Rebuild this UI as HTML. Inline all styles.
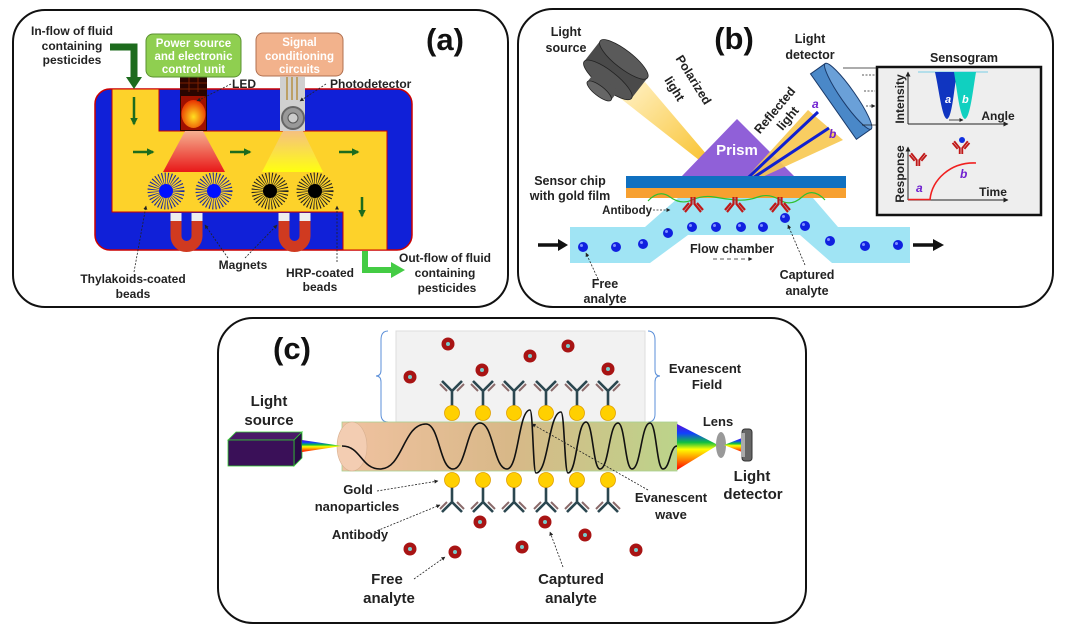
<!DOCTYPE html>
<html><head><meta charset="utf-8"><style>
html,body{margin:0;padding:0;background:#fff;}
svg{display:block;}
text{font-family:"Liberation Sans",Arial,sans-serif;font-weight:bold;fill:#222;}
</style></head><body>
<svg width="1067" height="631" viewBox="0 0 1067 631" xmlns="http://www.w3.org/2000/svg">
<defs>
<linearGradient id="redTri" x1="0" y1="0" x2="0" y2="1"><stop offset="0" stop-color="#f6b090"/><stop offset="1" stop-color="#e81818"/></linearGradient>
<linearGradient id="yelTri" x1="0" y1="0" x2="0" y2="1"><stop offset="0" stop-color="#f5c080"/><stop offset="1" stop-color="#ffff10"/></linearGradient>
<radialGradient id="led" cx="0.5" cy="0.6" r="0.6"><stop offset="0" stop-color="#ffe020"/><stop offset="1" stop-color="#e83000"/></radialGradient>
<linearGradient id="beam" x1="0" y1="0" x2="1" y2="1"><stop offset="0" stop-color="#fff2c8"/><stop offset="1" stop-color="#f7b400"/></linearGradient>
<linearGradient id="fiber" x1="0" y1="0" x2="1" y2="0"><stop offset="0" stop-color="#f0c2a0"/><stop offset="0.5" stop-color="#d8b888"/><stop offset="1" stop-color="#bcd48a"/></linearGradient>
<linearGradient id="rainbow" x1="0" y1="0" x2="0" y2="1"><stop offset="0" stop-color="#5a10d0"/><stop offset="0.2" stop-color="#1040ff"/><stop offset="0.4" stop-color="#10c040"/><stop offset="0.55" stop-color="#ffff00"/><stop offset="0.75" stop-color="#ff9000"/><stop offset="1" stop-color="#ff0000"/></linearGradient>
<marker id="ah" viewBox="0 0 10 10" refX="9" refY="5" markerWidth="5" markerHeight="5" orient="auto"><path d="M0,0 L10,5 L0,10 z" fill="#222"/></marker>
<marker id="gah" viewBox="0 0 10 10" refX="8" refY="5" markerWidth="3" markerHeight="3" orient="auto"><path d="M0,0 L10,5 L0,10 z" fill="#1d6b1d"/></marker>
<g id="abR" stroke="#c01818" stroke-width="2.2" fill="none"><path d="M-1.5,0 V7 L-8,15 M1.5,0 V7 L8,15 M-4,6 L-10,13 M4,6 L10,13"/></g>
<g id="abC" fill="none"><path d="M0,0 V-22 L-10,-32 M0,-22 L10,-32" stroke="#2b4750" stroke-width="2.6"/><path d="M-5,-22 L-12,-29 M5,-22 L12,-29" stroke="#8a6a6a" stroke-width="2"/></g>
<g id="an"><circle r="6.5" fill="#a81414"/><circle r="2" fill="#7cc"/></g>
<g id="bd"><circle r="5" fill="#1020e0"/><circle cx="-1.5" cy="-1.5" r="1.5" fill="#8090ff"/></g>
</defs>

<!-- ========== PANEL A ========== -->
<rect x="13" y="10" width="495" height="297" rx="32" fill="#fff" stroke="#111" stroke-width="2"/>
<rect x="95" y="89" width="317" height="161" rx="15" fill="#1020d8" stroke="#c00" stroke-width="1.5"/>
<path d="M112,89 H159 V131 H387 V250 H343 V212 H112 Z" fill="#fdd22a" stroke="#c00" stroke-width="1"/>
<rect x="180" y="77" width="27" height="54" fill="#2a0500"/>
<path d="M180,83 H207 M180,89 H207 M189,77 V92 M198,77 V92" stroke="#7a2000" stroke-width="1"/>
<rect x="181" y="96" width="25" height="34" fill="#a01000"/>
<ellipse cx="193.5" cy="114" rx="12" ry="14" fill="url(#led)"/>
<rect x="280" y="77" width="25" height="54" fill="#d0d0d0"/>
<path d="M287,77 V100 M292,77 V100 M297,77 V100" stroke="#b08020" stroke-width="1.2"/>
<circle cx="293" cy="118" r="11" fill="#999" stroke="#666" stroke-width="2"/>
<circle cx="293" cy="118" r="5" fill="#ccc" stroke="#555"/>
<polygon points="185,131 203,131 225,172 163,172" fill="url(#redTri)"/>
<polygon points="283,131 303,131 323,172 262,172" fill="url(#yelTri)"/>
<g stroke-dasharray="0.8 1.6">
<circle cx="166" cy="191" r="12" fill="none" stroke="#1a2aa0" stroke-width="13"/>
<circle cx="214" cy="191" r="12" fill="none" stroke="#1a2aa0" stroke-width="13"/>
<circle cx="270" cy="191" r="12" fill="none" stroke="#222" stroke-width="13"/>
<circle cx="315" cy="191" r="12" fill="none" stroke="#222" stroke-width="13"/>
</g>
<circle cx="166" cy="191" r="7" fill="#0010ff"/><circle cx="214" cy="191" r="7" fill="#0010ff"/>
<circle cx="270" cy="191" r="7" fill="#000"/><circle cx="315" cy="191" r="7" fill="#000"/>
<path d="M176,216 V236 A10.5,10.5 0 0 0 197,236 V216" fill="none" stroke="#d03a20" stroke-width="11"/>
<path d="M284,216 V236 A10.5,10.5 0 0 0 305,236 V216" fill="none" stroke="#d03a20" stroke-width="11"/>
<rect x="170.5" y="213" width="11" height="8" fill="#eee"/><rect x="191.5" y="213" width="11" height="8" fill="#eee"/>
<rect x="278.5" y="213" width="11" height="8" fill="#eee"/><rect x="299.5" y="213" width="11" height="8" fill="#eee"/>
<g stroke="#1d6b1d" stroke-width="2.5" marker-end="url(#gah)">
<path d="M134,97 V124"/><path d="M133,152 H153"/><path d="M230,152 H250"/><path d="M339,152 H358"/><path d="M362,197 V216"/>
</g>
<path d="M110,47 H134 V78" fill="none" stroke="#1d6b1d" stroke-width="7"/>
<polygon points="126,77 142,77 134,89" fill="#1d6b1d"/>
<path d="M365,251 V270 H392" fill="none" stroke="#44cc44" stroke-width="6"/>
<polygon points="391,262 391,278 405,270" fill="#44cc44"/>
<rect x="146" y="34" width="95" height="43" rx="7" fill="#8fcf50" stroke="#5a9030"/>
<text x="193.5" y="47" font-size="11.5" text-anchor="middle" style="fill:#fff">Power source</text>
<text x="193.5" y="60" font-size="11.5" text-anchor="middle" style="fill:#fff">and electronic</text>
<text x="193.5" y="73" font-size="11.5" text-anchor="middle" style="fill:#fff">control unit</text>
<rect x="256" y="33" width="87" height="43" rx="7" fill="#f2b28c" stroke="#b07050"/>
<text x="299.5" y="46" font-size="11.5" text-anchor="middle" style="fill:#fff">Signal</text>
<text x="299.5" y="60" font-size="11.5" text-anchor="middle" style="fill:#fff">conditioning</text>
<text x="299.5" y="73" font-size="11.5" text-anchor="middle" style="fill:#fff">circuits</text>
<text x="445" y="50" font-size="31" text-anchor="middle" style="fill:#111">(a)</text>
<text x="72" y="35" font-size="12" text-anchor="middle">In-flow of fluid</text>
<text x="72" y="50" font-size="12" text-anchor="middle">containing</text>
<text x="72" y="64" font-size="12" text-anchor="middle">pesticides</text>
<text x="232" y="88" font-size="12">LED</text>
<text x="330" y="88" font-size="12">Photodetector</text>
<text x="243" y="269" font-size="12" text-anchor="middle">Magnets</text>
<text x="133" y="283" font-size="12" text-anchor="middle">Thylakoids-coated</text>
<text x="133" y="298" font-size="12" text-anchor="middle">beads</text>
<text x="320" y="277" font-size="12" text-anchor="middle">HRP-coated</text>
<text x="320" y="291" font-size="12" text-anchor="middle">beads</text>
<text x="445" y="262" font-size="12" text-anchor="middle">Out-flow of fluid</text>
<text x="445" y="277" font-size="12" text-anchor="middle">containing</text>
<text x="447" y="292" font-size="12" text-anchor="middle">pesticides</text>
<g stroke="#222" stroke-width="0.8" stroke-dasharray="2 1.5" fill="none" marker-end="url(#ah)">
<path d="M231,84 L197,101"/><path d="M326,84 L300,101"/>
<path d="M134,272 L146,206"/><path d="M228,258 L205,225"/><path d="M245,258 L277,225"/><path d="M337,262 L337,206"/>
</g>

<!-- ========== PANEL B ========== -->
<rect x="518" y="9" width="535" height="298" rx="35" fill="#fff" stroke="#111" stroke-width="2"/>
<polygon points="620,98 645,82 736,189" fill="url(#beam)"/>
<g transform="translate(614,72) rotate(38)">
<rect x="-30" y="-16" width="60" height="26" fill="#4a4a4a"/>
<ellipse cx="0" cy="-16" rx="30" ry="9" fill="#5a5a5a" stroke="#222" stroke-width="0.8"/>
<ellipse cx="0" cy="10" rx="30" ry="9" fill="#555" stroke="#222" stroke-width="0.8"/>
<rect x="-15" y="12" width="30" height="12" fill="#555"/>
<ellipse cx="0" cy="24" rx="15" ry="5" fill="#666" stroke="#222" stroke-width="0.8"/>
</g>
<polygon points="737,119 681,177 795,177" fill="#9060d8"/>
<text x="737" y="155" font-size="15" text-anchor="middle" style="fill:#fff">Prism</text>
<polygon points="736,189 808,110 843,140" fill="#f7c850" opacity="0.9"/>
<path d="M736,189 L818,112 M736,189 L829,128" stroke="#1020d0" stroke-width="3"/>
<rect x="626" y="176" width="220" height="12" fill="#1070c0"/>
<rect x="626" y="188" width="220" height="10" fill="#f7a030"/>
<polygon points="570,227 645,227 678,198 813,198 838,227 910,227 910,263 832,263 800,235 688,235 650,263 570,263" fill="#a0e4f4"/>
<path d="M648,201 Q659,189 670,197 T692,200 T714,197 T736,200 T758,197 T780,200 T802,197 T825,200" fill="none" stroke="#30c030" stroke-width="1.2"/>
<g transform="translate(693,197)"><use href="#abR"/></g>
<g transform="translate(735,197)"><use href="#abR"/></g>
<g transform="translate(780,197)"><use href="#abR"/></g>
<g>
<use href="#bd" x="583" y="247"/><use href="#bd" x="616" y="247"/><use href="#bd" x="643" y="244"/><use href="#bd" x="668" y="233"/>
<use href="#bd" x="692" y="227"/><use href="#bd" x="716" y="227"/><use href="#bd" x="741" y="227"/><use href="#bd" x="763" y="227"/>
<use href="#bd" x="785" y="218"/><use href="#bd" x="805" y="226"/><use href="#bd" x="830" y="241"/><use href="#bd" x="865" y="246"/><use href="#bd" x="898" y="245"/>
</g>
<path d="M538,245 H560" stroke="#111" stroke-width="3.5"/><polygon points="558,239 568,245 558,251" fill="#111"/>
<path d="M913,245 H935" stroke="#111" stroke-width="3.5"/><polygon points="933,239 944,245 933,251" fill="#111"/>
<g transform="translate(840,102) rotate(55)">
<rect x="-40" y="-10" width="80" height="18" fill="#4a88c8" stroke="#1a3a6a" stroke-width="1"/>
<ellipse cx="0" cy="-10" rx="40" ry="7" fill="#6aa0d8" stroke="#1a3a6a" stroke-width="1"/>
</g>
<g stroke="#222" stroke-width="0.8" fill="none">
<path d="M843,68 H877 M862,125 H877"/>
<path d="M862,75 H875 M864,91 H875 M866,106 H875" stroke-dasharray="2 1.5" marker-end="url(#ah)"/>
<path d="M653,210 H670" stroke-dasharray="2 1.5" marker-end="url(#ah)"/>
<path d="M713,259 H752" stroke-dasharray="4 3" marker-end="url(#ah)"/>
<path d="M598,279 L586,253" stroke-dasharray="2 1.5" marker-end="url(#ah)"/>
<path d="M805,265 L788,225" stroke-dasharray="2 1.5" marker-end="url(#ah)"/>
</g>
<text x="812" y="108" font-size="12" font-style="italic" style="fill:#7020d0">a</text>
<text x="829" y="138" font-size="12" font-style="italic" style="fill:#7020d0">b</text>
<rect x="877" y="67" width="164" height="148" fill="#eeeeee" stroke="#111" stroke-width="2.5"/>
<g stroke="#222" stroke-width="1" fill="none" marker-end="url(#ah)">
<path d="M908,124 V72"/><path d="M908,124 H1008"/><path d="M908,200 V147"/><path d="M908,200 H1008"/>
</g>
<path d="M918,72 H988" stroke="#a0d8e8" stroke-width="1.5"/>
<path d="M935,72 H957 C954,90 952,118 947,119 C942,118 939,90 935,72Z" fill="#1035c0"/>
<path d="M954,72 H976 C973,90 970,118 965,119 C960,118 957,90 954,72Z" fill="#10d0c0"/>
<text x="945" y="103" font-size="11" font-style="italic" style="fill:#fff">a</text>
<text x="962" y="103" font-size="11" font-style="italic" style="fill:#fff">b</text>
<path d="M949,120 H963" stroke="#222" stroke-width="0.8" marker-end="url(#ah)"/>
<path d="M908,199.5 H930 C932,180 950,162 976,163" fill="none" stroke="#f02020" stroke-width="1.6"/>
<g transform="translate(918,166) scale(0.85,-0.85)"><use href="#abR"/></g>
<g transform="translate(961,154) scale(0.85,-0.85)"><use href="#abR"/></g>
<circle cx="962" cy="140" r="3" fill="#1030e0"/>
<text x="916" y="192" font-size="12" font-style="italic" style="fill:#7020d0">a</text>
<text x="960" y="178" font-size="12" font-style="italic" style="fill:#7020d0">b</text>
<text x="998" y="120" font-size="12" text-anchor="middle">Angle</text>
<text x="993" y="196" font-size="12" text-anchor="middle">Time</text>
<text transform="translate(904,99) rotate(-90)" font-size="12" text-anchor="middle">Intensity</text>
<text transform="translate(904,174) rotate(-90)" font-size="12" text-anchor="middle">Response</text>
<text x="964" y="62" font-size="12.5" text-anchor="middle">Sensogram</text>
<text x="734" y="49" font-size="31" text-anchor="middle" style="fill:#111">(b)</text>
<text x="566" y="36" font-size="12.5" text-anchor="middle">Light</text>
<text x="566" y="52" font-size="12.5" text-anchor="middle">source</text>
<text x="810" y="43" font-size="12.5" text-anchor="middle">Light</text>
<text x="810" y="59" font-size="12.5" text-anchor="middle">detector</text>
<text transform="translate(690,82) rotate(58)" font-size="12.5" text-anchor="middle">Polarized</text>
<text transform="translate(671,91) rotate(58)" font-size="12.5" text-anchor="middle">light</text>
<text transform="translate(778,113) rotate(-50)" font-size="12.5" text-anchor="middle">Reflected</text>
<text transform="translate(791,121) rotate(-50)" font-size="12.5" text-anchor="middle">light</text>
<text x="570" y="185" font-size="12.5" text-anchor="middle">Sensor chip</text>
<text x="570" y="200" font-size="12.5" text-anchor="middle">with gold film</text>
<text x="652" y="214" font-size="11.5" text-anchor="end">Antibody</text>
<text x="690" y="253" font-size="12.5">Flow chamber</text>
<text x="605" y="288" font-size="12.5" text-anchor="middle">Free</text>
<text x="605" y="303" font-size="12.5" text-anchor="middle">analyte</text>
<text x="807" y="279" font-size="12.5" text-anchor="middle">Captured</text>
<text x="807" y="295" font-size="12.5" text-anchor="middle">analyte</text>

<!-- ========== PANEL C ========== -->
<rect x="218" y="318" width="588" height="305" rx="35" fill="#fff" stroke="#111" stroke-width="2"/>
<rect x="396" y="331" width="249" height="91" fill="#f2f2f2" stroke="#ddd"/>
<path d="M388,331 Q381,331 381,340 V370 Q381,376 376,376 Q381,376 381,382 V414 Q381,422 388,422" fill="none" stroke="#5b8fd8" stroke-width="1"/>
<path d="M648,331 Q655,331 655,340 V370 Q655,376 660,376 Q655,376 655,382 V414 Q655,422 648,422" fill="none" stroke="#5b8fd8" stroke-width="1"/>
<rect x="342" y="422" width="335" height="49" fill="url(#fiber)" stroke="#a8d090" stroke-width="0.8"/>
<ellipse cx="352" cy="446.5" rx="15" ry="24.5" fill="#f3cdb2" stroke="#d8b090" stroke-width="0.6"/>
<polygon points="677,424 677,470 718,445" fill="url(#rainbow)"/>
<ellipse cx="721" cy="445" rx="5" ry="13" fill="#999"/>
<polygon points="724,445 742,438 742,452" fill="url(#rainbow)"/>
<rect x="742" y="429" width="10" height="32" rx="3" fill="#666" stroke="#333"/>
<rect x="741" y="433" width="4" height="24" fill="#aaa"/>
<polygon points="228,440 236,432 302,432 294,440" fill="#4a1a68" stroke="#3c3" stroke-width="0.8"/>
<polygon points="294,440 302,432 302,458 294,466" fill="#2a0a48" stroke="#3c3" stroke-width="0.8"/>
<rect x="228" y="440" width="66" height="26" fill="#3a1058" stroke="#3c3" stroke-width="0.8"/>
<polygon points="302,440 302,452 342,446" fill="url(#rainbow)"/>
<path d="M342,446 C361,446 361,469 380,469 C403,469 403,424 426,424 C439.5,424 439.5,469 453,469 C466.5,469 466.5,423 480,423 C493.5,423 493.5,469 507,469 C518.5,469 518.5,410 530,410 C533,410 533,473 536,473 C548.5,473 548.5,412 561,412 C564.5,412 564.5,473 568,473 C577,473 577,422 586,422 C593,422 593,469 600,469 C609,469 609,423 618,423 C625,423 625,469 632,469 C641,469 641,423 650,423 C656.5,423 656.5,469 663,469 C670,469 670,446 677,446" fill="none" stroke="#111" stroke-width="1.6"/>
<g>
<use href="#abC" x="452" y="413"/><use href="#abC" x="483" y="413"/><use href="#abC" x="514" y="413"/><use href="#abC" x="546" y="413"/><use href="#abC" x="577" y="413"/><use href="#abC" x="608" y="413"/>
<g transform="translate(0,893) scale(1,-1)">
<use href="#abC" x="452" y="413"/><use href="#abC" x="483" y="413"/><use href="#abC" x="514" y="413"/><use href="#abC" x="546" y="413"/><use href="#abC" x="577" y="413"/><use href="#abC" x="608" y="413"/>
</g>
</g>
<g fill="#ffd000" stroke="#e0a000" stroke-width="0.8">
<circle cx="452" cy="413" r="7.5"/><circle cx="483" cy="413" r="7.5"/><circle cx="514" cy="413" r="7.5"/><circle cx="546" cy="413" r="7.5"/><circle cx="577" cy="413" r="7.5"/><circle cx="608" cy="413" r="7.5"/>
<circle cx="452" cy="480" r="7.5"/><circle cx="483" cy="480" r="7.5"/><circle cx="514" cy="480" r="7.5"/><circle cx="546" cy="480" r="7.5"/><circle cx="577" cy="480" r="7.5"/><circle cx="608" cy="480" r="7.5"/>
</g>
<g>
<use href="#an" x="448" y="344"/><use href="#an" x="568" y="346"/><use href="#an" x="530" y="356"/><use href="#an" x="410" y="377"/><use href="#an" x="482" y="370"/><use href="#an" x="608" y="369"/>
<use href="#an" x="480" y="522"/><use href="#an" x="545" y="522"/><use href="#an" x="585" y="535"/><use href="#an" x="410" y="549"/><use href="#an" x="455" y="552"/><use href="#an" x="522" y="547"/><use href="#an" x="636" y="550"/>
</g>
<g stroke="#222" stroke-width="0.8" stroke-dasharray="2 1.5" fill="none" marker-end="url(#ah)">
<path d="M377,491 L438,481"/><path d="M374,532 L440,505"/><path d="M648,490 L532,424"/><path d="M414,579 L445,557"/><path d="M563,567 L550,532"/>
</g>
<text x="292" y="359" font-size="31" text-anchor="middle" style="fill:#111">(c)</text>
<text x="269" y="406" font-size="15" text-anchor="middle">Light</text>
<text x="269" y="425" font-size="15" text-anchor="middle">source</text>
<text x="705" y="373" font-size="13" text-anchor="middle">Evanescent</text>
<text x="707" y="389" font-size="13" text-anchor="middle">Field</text>
<text x="718" y="426" font-size="13" text-anchor="middle">Lens</text>
<text x="752" y="481" font-size="15" text-anchor="middle">Light</text>
<text x="753" y="499" font-size="15" text-anchor="middle">detector</text>
<text x="358" y="494" font-size="13" text-anchor="middle">Gold</text>
<text x="357" y="511" font-size="13" text-anchor="middle">nanoparticles</text>
<text x="360" y="539" font-size="13" text-anchor="middle">Antibody</text>
<text x="671" y="502" font-size="13" text-anchor="middle">Evanescent</text>
<text x="671" y="519" font-size="13" text-anchor="middle">wave</text>
<text x="387" y="584" font-size="15" text-anchor="middle">Free</text>
<text x="389" y="603" font-size="15" text-anchor="middle">analyte</text>
<text x="571" y="584" font-size="15" text-anchor="middle">Captured</text>
<text x="571" y="603" font-size="15" text-anchor="middle">analyte</text>
</svg>
</body></html>
